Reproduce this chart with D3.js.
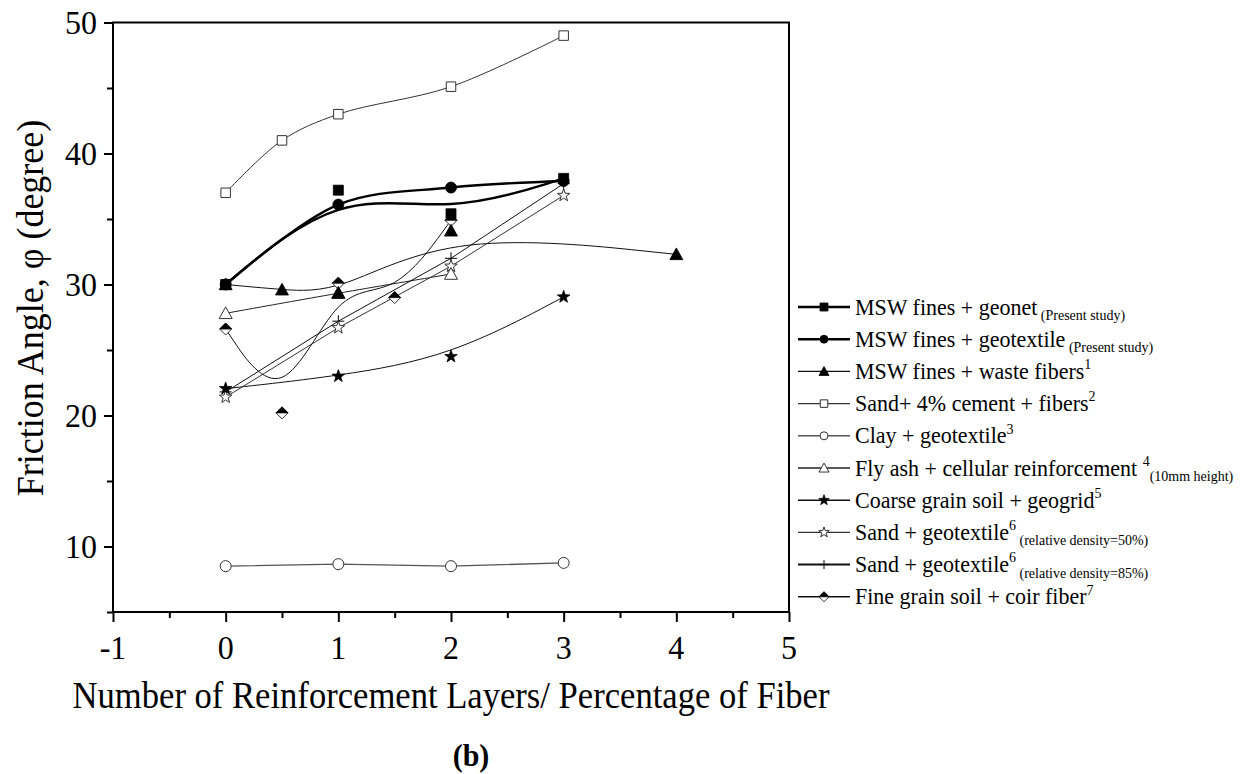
<!DOCTYPE html>
<html>
<head>
<meta charset="utf-8">
<script src="https://cdn.jsdelivr.net/npm/d3@7"></script>
<style>
  html, body { margin: 0; padding: 0; background: #fff; }
  svg { display: block; }
</style>
</head>
<body>
<script>
// ---- data ---------------------------------------------------------------
const xTicks = [-1, 0, 1, 2, 3, 4, 5];
const xTickLabels = ["-1", "0", "1", "2", "3", "4", "5"];
const yTicks = [10, 20, 30, 40, 50];
const yTickLabels = ["10", "20", "30", "40", "50"];

const geonetX = [0, 1, 2, 3];
const geonetY = [30.0, 37.2, 35.4, 38.1];

const geotextileX = [0, 1, 2, 3];
const geotextileY = [30.0, 36.1, 37.4, 37.9];

const wasteFiberX = [0, 0.5, 1, 2, 4];
const wasteFiberY = [30.0, 29.6, 29.35, 34.1, 32.3];

const sandCementX = [0, 0.5, 1, 2, 3];
const sandCementY = [37.0, 41.0, 43.0, 45.1, 49.0];

const clayX = [0, 1, 2, 3];
const clayY = [8.5, 8.65, 8.5, 8.75];

const flyAshX = [0, 1, 2];
const flyAshY = [27.8, 29.35, 30.8];

const coarseX = [0, 1, 2, 3];
const coarseY = [22.05, 23.0, 24.5, 29.05];

const sand50X = [0, 1, 2, 3];
const sand50Y = [21.4, 26.7, 31.4, 36.8];

const sand85X = [0, 1, 2, 3];
const sand85Y = [21.8, 27.2, 32.0, 37.7];

const coirX = [0, 0.5, 1, 1.5, 2];
const coirY = [26.6, 20.2, 30.1, 29.0, 34.9];

// legend text: [main, superscript, subscript]
const legendLabels = [
  ["MSW fines + geonet", "", " (Present study)"],
  ["MSW fines + geotextile", "", " (Present study)"],
  ["MSW fines + waste fibers", "1", ""],
  ["Sand+ 4% cement + fibers", "2", ""],
  ["Clay + geotextile", "3", ""],
  ["Fly ash + cellular reinforcement ", "4", "(10mm height)"],
  ["Coarse grain soil + geogrid", "5", ""],
  ["Sand + geotextile", "6", " (relative density=50%)"],
  ["Sand + geotextile", "6", " (relative density=85%)"],
  ["Fine grain soil + coir fiber", "7", ""]
];

// ---- series styling ------------------------------------------------------
const series = [
  { xs: geonetX,      ys: geonetY,      marker: "square",   fill: "#000", lw: 2.4, color: "#000", curve: d3.curveBasis },
  { xs: geotextileX,  ys: geotextileY,  marker: "circle",   fill: "#000", lw: 2.4, color: "#000", curve: d3.curveCatmullRom },
  { xs: wasteFiberX,  ys: wasteFiberY,  marker: "triangle", fill: "#000", lw: 1.0, color: "#111", curve: d3.curveBasis },
  { xs: sandCementX,  ys: sandCementY,  marker: "square",   fill: "#fff", lw: 1.0, color: "#333", curve: d3.curveCatmullRom },
  { xs: clayX,        ys: clayY,        marker: "circle",   fill: "#fff", lw: 1.3, color: "#555", curve: d3.curveLinear },
  { xs: flyAshX,      ys: flyAshY,      marker: "triangle", fill: "#fff", lw: 1.0, color: "#222", curve: d3.curveBasis },
  { xs: coarseX,      ys: coarseY,      marker: "star",     fill: "#000", lw: 1.0, color: "#111", curve: d3.curveBasis },
  { xs: sand50X,      ys: sand50Y,      marker: "star",     fill: "#fff", lw: 1.0, color: "#333", curve: d3.curveLinear },
  { xs: sand85X,      ys: sand85Y,      marker: "plus",     fill: "none", lw: 1.0, color: "#111", curve: d3.curveLinear },
  { xs: coirX,        ys: coirY,        marker: "diamond",  fill: "#fff", lw: 1.0, color: "#111", curve: d3.curveBasis }
];

// ---- layout ---------------------------------------------------------------
const W = 1252, H = 774;
const plot = { left: 113, right: 789, top: 22.5, bottom: 612 };
const SERIF = "'Liberation Serif', 'Times New Roman', Times, serif";
const STRETCH = 1.08;   // glyphs are drawn slightly taller than wide

const x = d3.scaleLinear().domain([-1, 5]).range([plot.left, plot.right]);
const y = d3.scaleLinear().domain([5, 50]).range([plot.bottom, plot.top]);

const svg = d3.select("body").append("svg").attr("width", W).attr("height", H);

// serif text with a vertical stretch, anchored at (tx, ty)
function label(parent, tx, ty, size, anchor, rotate) {
  const tr = rotate
    ? `translate(${tx},${ty}) scale(${STRETCH},1) rotate(${rotate})`
    : `translate(${tx},${ty}) scale(1,${STRETCH})`;
  return parent.append("text")
    .attr("transform", tr)
    .attr("font-family", SERIF)
    .attr("font-size", size)
    .attr("text-anchor", anchor)
    .attr("fill", "#000");
}

// marker shapes centred on the origin; s is the nominal marker width
function markerPath(type, s) {
  const h = s / 2;
  switch (type) {
    case "square":
      return `M${-h},${-h}H${h}V${h}H${-h}Z`;
    case "circle":
      return d3.symbol(d3.symbolCircle, Math.PI * h * h)();
    case "triangle": {
      const th = s * 0.9;
      return `M0,${-th * 0.55}L${h},${th * 0.45}L${-h},${th * 0.45}Z`;
    }
    case "star": {
      const R = h * 1.1, r = R * 0.4;
      let p = "";
      for (let i = 0; i < 10; i++) {
        const a = -Math.PI / 2 + i * Math.PI / 5;
        const rad = i % 2 === 0 ? R : r;
        p += (i === 0 ? "M" : "L") + (rad * Math.cos(a)).toFixed(2) + "," + (rad * Math.sin(a)).toFixed(2);
      }
      return p + "Z";
    }
    case "diamond":
      return `M0,${-h}L${h},0L0,${h}L${-h},0Z`;
    case "plus":
      return `M${-h},0H${h}M0,${-h}V${h}`;
  }
}

function drawMarker(g, s, cx, cy, size) {
  const t = `translate(${cx},${cy})`;
  if (s.marker === "plus") {
    g.append("path").attr("d", markerPath("plus", size)).attr("transform", t)
      .attr("fill", "none").attr("stroke", "#000").attr("stroke-width", 1);
    return;
  }
  const open = s.fill === "#fff";
  g.append("path").attr("d", markerPath(s.marker, size)).attr("transform", t)
    .attr("fill", s.fill)
    .attr("stroke", open ? "#333" : "#000")
    .attr("stroke-width", open ? 1 : 0.8);
  if (s.marker === "diamond") {
    const h = size / 2;
    g.append("path").attr("d", `M0,${-h}L${h},0L${-h},0Z`).attr("transform", t)
      .attr("fill", "#000").attr("stroke", "#000").attr("stroke-width", 0.8);
  }
}

// ---- curves ---------------------------------------------------------------
const gLines = svg.append("g");
series.forEach(s => {
  const pts = s.xs.map((v, i) => [v, s.ys[i]]);
  const line = d3.line().x(d => x(d[0])).y(d => y(d[1])).curve(s.curve);
  gLines.append("path").attr("d", line(pts))
    .attr("fill", "none").attr("stroke", s.color).attr("stroke-width", s.lw)
    .attr("stroke-linejoin", "round");
});

// ---- markers (first series on top) ----------------------------------------
const gMarks = svg.append("g");
const markerSize = { square: 10, circle: 11, triangle: 13, star: 12, diamond: 12, plus: 12 };
series.slice().reverse().forEach(s => {
  const mk = s.marker === "square" && s.fill === "#fff" ? 9.5 : markerSize[s.marker];
  s.xs.forEach((v, i) => drawMarker(gMarks, s, x(v), y(s.ys[i]), mk));
});

// ---- frame and axes ---------------------------------------------------------
svg.append("rect")
  .attr("x", plot.left).attr("y", plot.top)
  .attr("width", plot.right - plot.left).attr("height", plot.bottom - plot.top)
  .attr("fill", "none").attr("stroke", "#000").attr("stroke-width", 2);

const xAxis = d3.axisBottom(x).tickValues(xTicks).tickSize(10).tickFormat("");
const xMinor = d3.axisBottom(x).tickValues(d3.range(-0.5, 5, 1)).tickSize(6).tickFormat("");
const gx = svg.append("g").attr("transform", `translate(0,${plot.bottom})`).call(xAxis);
const gxm = svg.append("g").attr("transform", `translate(0,${plot.bottom})`).call(xMinor);
[gx, gxm].forEach(g => {
  g.select(".domain").remove();
  g.selectAll("line").attr("stroke", "#000").attr("stroke-width", 2);
});

const yAxis = d3.axisLeft(y).tickValues(yTicks).tickSize(9).tickFormat("");
const yMinor = d3.axisLeft(y).tickValues([5, 15, 25, 35, 45]).tickSize(6).tickFormat("");
const gy = svg.append("g").attr("transform", `translate(${plot.left},0)`).call(yAxis);
const gym = svg.append("g").attr("transform", `translate(${plot.left},0)`).call(yMinor);
[gy, gym].forEach(g => {
  g.select(".domain").remove();
  g.selectAll("line").attr("stroke", "#000").attr("stroke-width", 2);
});

// tick labels
xTicks.forEach((d, i) => label(svg, x(d), 659, 32, "middle").text(xTickLabels[i]));
yTicks.forEach((d, i) => label(svg, 97, y(d) + 11.5, 32, "end").text(yTickLabels[i]));

// axis titles
label(svg, 451, 708, 34.6, "middle")
  .text("Number of Reinforcement Layers/ Percentage of Fiber");

label(svg, 43, 308, 36, "middle", -90)
  .text("Friction Angle, \u03C6 (degree)");

label(svg, 471, 766, 30, "middle").attr("font-weight", "bold").text("(b)");

// ---- legend ---------------------------------------------------------------
const legend = svg.append("g");
const legY0 = 307, legStep = 32.2;
const legendMarker = { square: 8, circle: 8, triangle: 10, star: 10, diamond: 10, plus: 9 };
series.forEach((s, i) => {
  const cy = legY0 + i * legStep;
  const lw = s.lw > 2 ? 2.6 : (s.marker === "plus" ? 2 : 1.4);
  legend.append("line").attr("x1", 798).attr("x2", 850).attr("y1", cy).attr("y2", cy)
    .attr("stroke", s.color).attr("stroke-width", lw);
  const mk = s.marker === "square" && s.fill === "#fff" ? 7.5 : legendMarker[s.marker];
  drawMarker(legend, s, 824, cy, mk);

  const [main, sup, sub] = legendLabels[i];
  const t = label(legend, 855, cy + 7.5, 22, "start");
  t.append("tspan").text(main);
  let shift = 0;
  if (sup) {
    t.append("tspan").attr("font-size", 14).attr("dy", -9).text(sup);
    shift = -9;
  }
  if (sub) {
    t.append("tspan").attr("font-size", 14).attr("dy", 5 - shift).text(sub);
  }
});
</script>
</body>
</html>
